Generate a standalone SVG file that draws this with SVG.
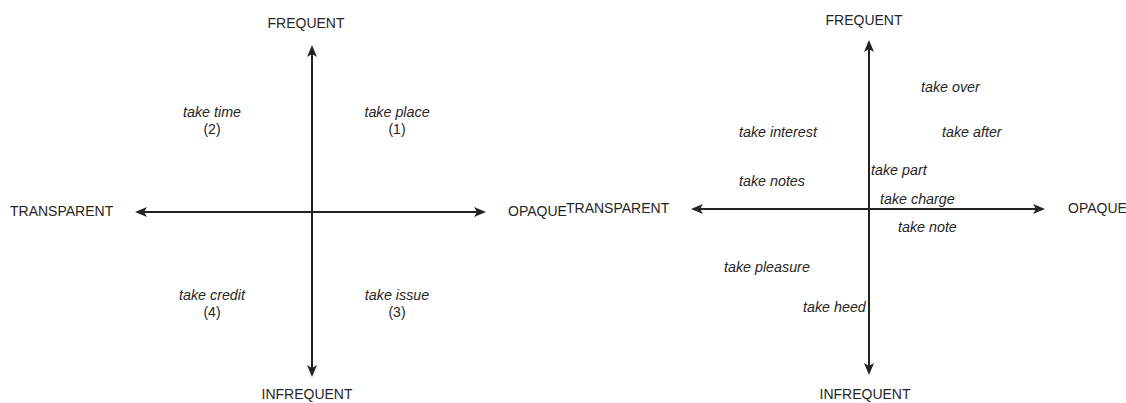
<svg xmlns="http://www.w3.org/2000/svg" width="1126" height="403" viewBox="0 0 1126 403">
  <style>
    .axis { stroke: #222222; stroke-width: 2; fill: none; marker-start: url(#head); marker-end: url(#head); }
    .pole { font-family: "Liberation Sans", Arial, Helvetica, sans-serif; font-size: 14px; fill: #262626; }
    .verb { font-family: "Liberation Sans", Arial, Helvetica, sans-serif; font-size: 14.3px; font-style: italic; fill: #262626; }
    .num { font-family: "Liberation Sans", Arial, Helvetica, sans-serif; font-size: 14px; fill: #262626; }
    .mid { text-anchor: middle; }
  </style>
  <defs>
    <marker id="head" viewBox="0 0 12 10" refX="9" refY="5" markerWidth="12" markerHeight="10" markerUnits="userSpaceOnUse" orient="auto-start-reverse">
      <path d="M0,0 L12,5 L0,10 L3,5 z" fill="#222222"/>
    </marker>
  </defs>
  <rect width="1126" height="403" fill="#ffffff"/>

  <!-- left quadrant chart -->
  <g id="chart-left">
    <g id="axes-left">
      <line class="axis" x1="312" y1="48" x2="312" y2="374"/>
      <line class="axis" x1="138" y1="212" x2="483" y2="212"/>
    </g>
    <g id="left-frequent"><text class="pole mid" x="306" y="28">FREQUENT</text></g>
    <g id="left-infrequent"><text class="pole mid" x="307" y="399">INFREQUENT</text></g>
    <g id="left-transparent"><text class="pole" x="10" y="216">TRANSPARENT</text></g>
    <g id="left-opaque"><text class="pole" x="508" y="216">OPAQUE</text></g>
    <g id="take-time">
      <text class="verb mid" x="212" y="117">take time</text>
      <text class="num mid" x="212" y="134">(2)</text>
    </g>
    <g id="take-place">
      <text class="verb mid" x="397" y="117">take place</text>
      <text class="num mid" x="397" y="134">(1)</text>
    </g>
    <g id="take-credit">
      <text class="verb mid" x="212" y="300">take credit</text>
      <text class="num mid" x="212" y="317">(4)</text>
    </g>
    <g id="take-issue">
      <text class="verb mid" x="397" y="300">take issue</text>
      <text class="num mid" x="397" y="317">(3)</text>
    </g>
  </g>

  <!-- right quadrant chart -->
  <g id="chart-right">
    <g id="axes-right">
      <line class="axis" x1="869" y1="43" x2="869" y2="372"/>
      <line class="axis" x1="694" y1="209" x2="1042" y2="209"/>
    </g>
    <g id="right-frequent"><text class="pole mid" x="864" y="25">FREQUENT</text></g>
    <g id="right-infrequent"><text class="pole mid" x="865" y="399">INFREQUENT</text></g>
    <g id="right-transparent"><text class="pole" x="566" y="213">TRANSPARENT</text></g>
    <g id="right-opaque"><text class="pole" x="1068" y="213">OPAQUE</text></g>
    <g id="take-over"><text class="verb" x="921" y="92">take over</text></g>
    <g id="take-interest"><text class="verb" x="739" y="137">take interest</text></g>
    <g id="take-after"><text class="verb" x="942" y="137">take after</text></g>
    <g id="take-part"><text class="verb" x="871" y="175">take part</text></g>
    <g id="take-notes"><text class="verb" x="739" y="186">take notes</text></g>
    <g id="take-charge"><text class="verb" x="880" y="204">take charge</text></g>
    <g id="take-note"><text class="verb" x="898" y="232">take note</text></g>
    <g id="take-pleasure"><text class="verb" x="724" y="272">take pleasure</text></g>
    <g id="take-heed"><text class="verb" x="803" y="312">take heed</text></g>
  </g>
</svg>
